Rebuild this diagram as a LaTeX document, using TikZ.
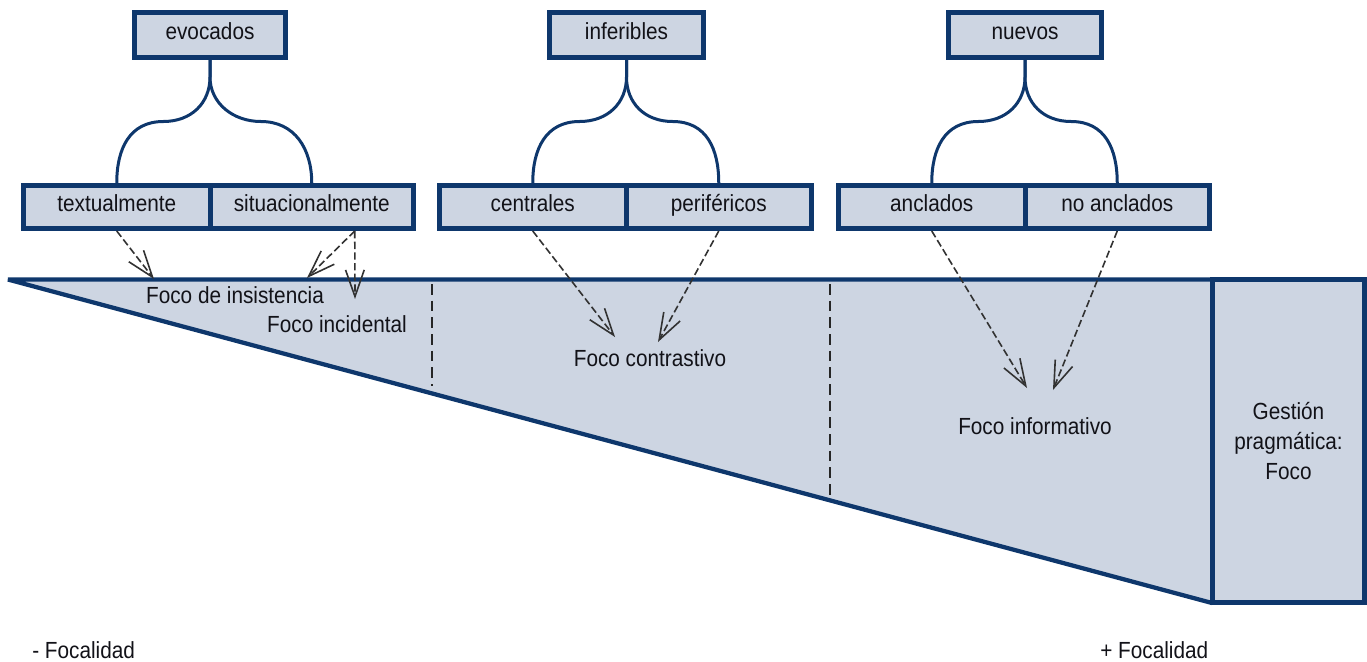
\documentclass[tikz,border=0pt]{standalone}
\usepackage{fontspec}
\setmainfont{Liberation Sans}[FakeStretch=0.89]
\usetikzlibrary{arrows.meta,calc}
\definecolor{navy}{RGB}{14,55,108}
\definecolor{paleblue}{RGB}{205,213,226}
\definecolor{inktext}{RGB}{18,18,24}
\definecolor{arrowgrey}{RGB}{50,50,50}
\begin{document}
\begin{tikzpicture}[x=0.75pt,y=-0.75pt,
  font=\fontsize{17.5pt}{22.5pt}\selectfont, text=inktext,
  box/.style={draw=navy, fill=paleblue, line width=3.75pt, inner sep=0pt,
    text height=0.72em, text depth=0pt},
  topbox/.style={box, minimum height=33.75pt},
  subbox/.style={box, minimum height=32.25pt},
  brace/.style={draw=navy, line width=2.25pt},
  pointer/.style={draw=arrowgrey, line width=1.2pt, dash pattern=on 5.5pt off 2.5pt,
    -{Straight Barb[length=20pt,width=14pt,line width=1.2pt]}},
  divider/.style={draw=black!85, line width=1.5pt, dash pattern=on 8pt off 4.5pt},
  lbl/.style={anchor=base, inner sep=0pt}]
\useasboundingbox (0,0) rectangle (1367,661);

% focus wedge
\fill[paleblue] (8,279) -- (1212,279) -- (1212,603) -- cycle;
\draw[navy, line width=3.2pt, line join=bevel] (1212,279.5) -- (8,279.5) -- (1212,603);

% section separators
\coordinate (d1t) at (432,284);
\coordinate (d1b) at (432,386);
\coordinate (d2t) at (830,284);
\coordinate (d2b) at (830,495);
\draw[divider] (d1t) -- (d1b);
\draw[divider] (d2t) -- (d2b);

% categories
\node[topbox, minimum width=113.25pt] (evo) at (210,35) {evocados};
\node[topbox, minimum width=115.5pt] (inf) at (626.5,35) {inferibles};
\node[topbox, minimum width=114.75pt] (nue) at (1025,35) {nuevos};

\node[subbox, minimum width=139.875pt] (txt) at (116.75,207) {textualmente};
\node[subbox, minimum width=152.625pt] (sit) at (311.75,207) {situacionalmente};
\node[subbox, minimum width=139.875pt] (cen) at (532.75,207) {centrales};
\node[subbox, minimum width=139.125pt] (per) at (718.75,207) {periféricos};
\node[subbox, minimum width=139.875pt] (anc) at (931.75,207) {anclados};
\node[subbox, minimum width=138.375pt] (noa) at (1117.25,207) {no anclados};

% braces
\draw[brace] (evo.south) -- ++(0,17) .. controls +(0,26) and +(28,0) .. ($(evo.south)!0.5!(txt.north)$) .. controls +(-34,0) and +(0,-34) .. (txt.north);
\draw[brace] (evo.south) -- ++(0,17) .. controls +(0,26) and +(-28,0) .. ($(evo.south)!0.5!(sit.north)$) .. controls +(34,0) and +(0,-34) .. (sit.north);
\draw[brace] (inf.south) -- ++(0,17) .. controls +(0,26) and +(28,0) .. ($(inf.south)!0.5!(cen.north)$) .. controls +(-34,0) and +(0,-34) .. (cen.north);
\draw[brace] (inf.south) -- ++(0,17) .. controls +(0,26) and +(-28,0) .. ($(inf.south)!0.5!(per.north)$) .. controls +(34,0) and +(0,-34) .. (per.north);
\draw[brace] (nue.south) -- ++(0,17) .. controls +(0,26) and +(28,0) .. ($(nue.south)!0.5!(anc.north)$) .. controls +(-34,0) and +(0,-34) .. (anc.north);
\draw[brace] (nue.south) -- ++(0,17) .. controls +(0,26) and +(-28,0) .. ($(nue.south)!0.5!(noa.north)$) .. controls +(34,0) and +(0,-34) .. (noa.north);

% focus types
\node[lbl] (ins) at (235,303) {Foco de insistencia};
\node[lbl] (inc) at (337,332.5) {Foco incidental};
\node[lbl] (con) at (650,366.5) {Foco contrastivo};
\node[lbl] (infm) at (1035,434) {Foco informativo};

% arrow targets
\coordinate (tIns1) at (154,279);
\coordinate (tIns2) at (307,278);
\coordinate (tInc) at (355,299);
\coordinate (tCon1) at (615,337);
\coordinate (tCon2) at (658,342);
\coordinate (tInf1) at (1027,388);
\coordinate (tInf2) at (1053,390);

\draw[pointer] (txt.south) -- (tIns1);
\draw[pointer] ($(sit.south)+(43,0)$) -- (tIns2);
\draw[pointer] ($(sit.south)+(43,0)$) -- (tInc);
\draw[pointer] (cen.south) -- (tCon1);
\draw[pointer] (per.south) -- (tCon2);
\draw[pointer] (anc.south) -- (tInf1);
\draw[pointer] (noa.south) -- (tInf2);

% pragmatic management box
\node[box, text height=, text depth=, minimum width=114pt, minimum height=242.25pt,
  align=center] (gest) at (1288.5,441) {Gestión\\pragmática:\\Foco};

% scale ends
\node[lbl, anchor=base west] (lo) at (32,658) {- Focalidad};
\node[lbl, anchor=base west] (hi) at (1100,658) {+ Focalidad};
\end{tikzpicture}
\end{document}
